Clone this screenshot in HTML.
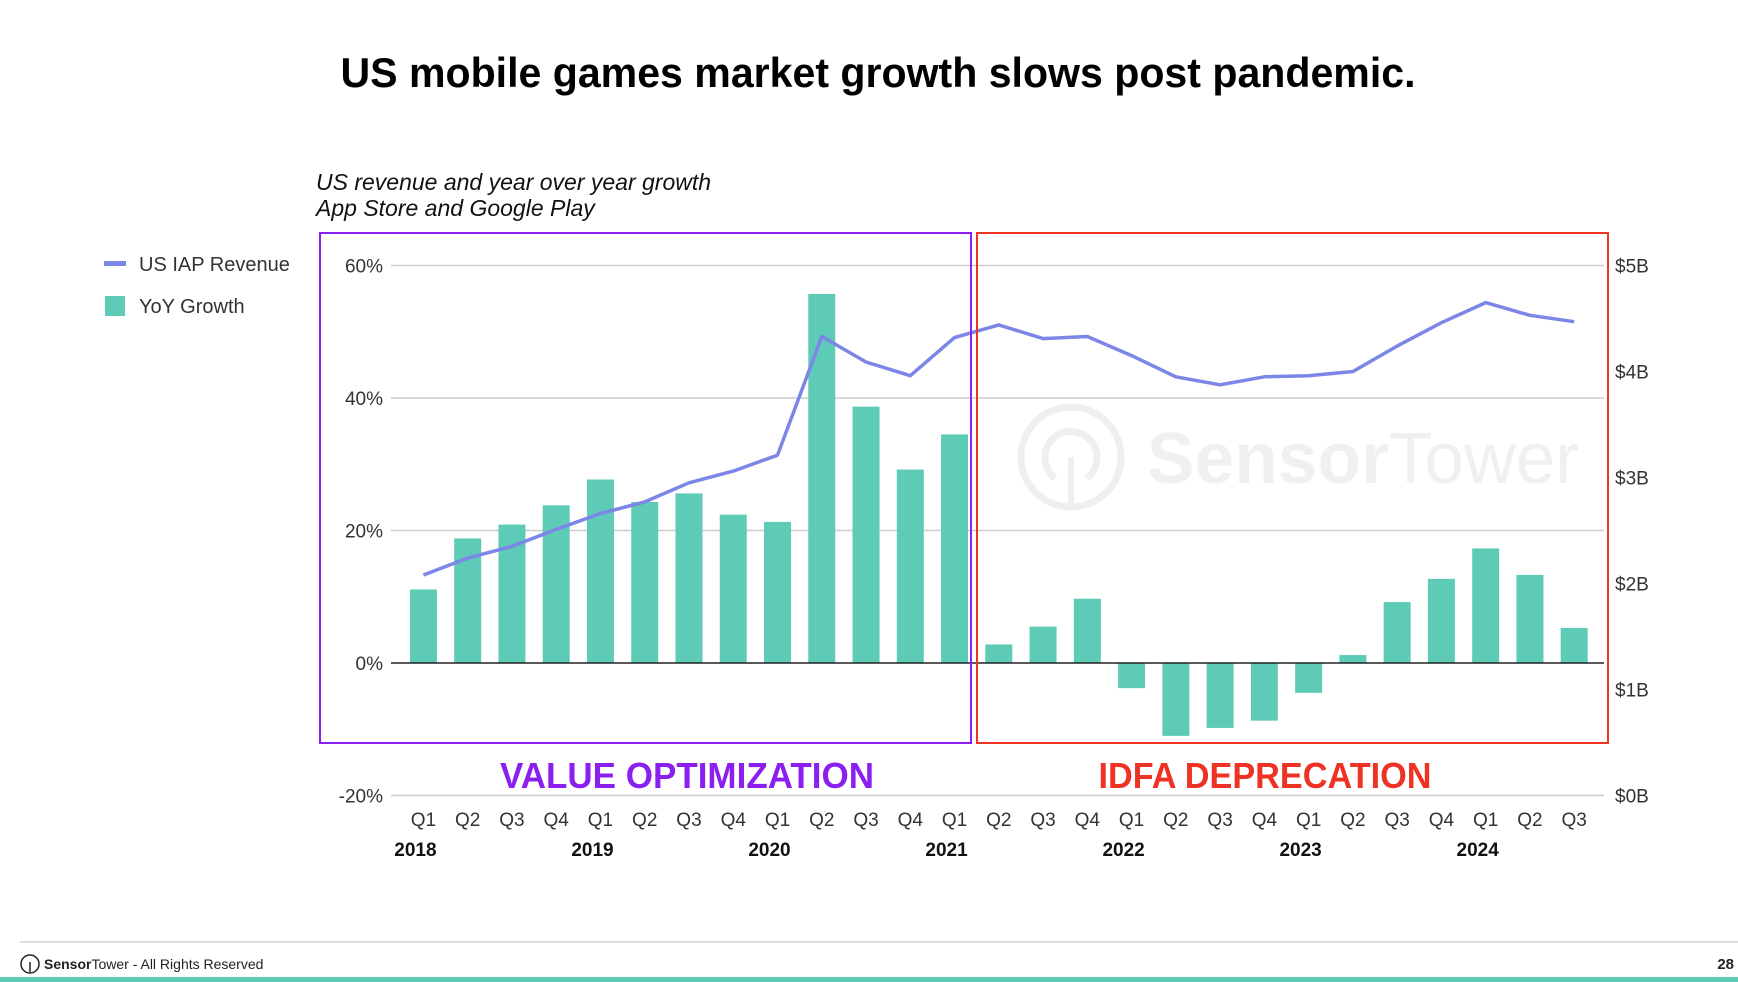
<!DOCTYPE html>
<html><head><meta charset="utf-8"><style>
html,body{margin:0;padding:0;background:#fff;}
svg{display:block;font-family:"Liberation Sans",sans-serif;}
</style></head><body>
<svg id="chart" width="1738" height="982" viewBox="0 0 1738 982">
<text x="878" y="87" text-anchor="middle" font-size="42" font-weight="bold" textLength="1075" lengthAdjust="spacingAndGlyphs" fill="#000">US mobile games market growth slows post pandemic.</text>
<text x="316" y="190" font-size="23" font-style="italic" fill="#111">US revenue and year over year growth</text>
<text x="316" y="216" font-size="23" font-style="italic" fill="#111">App Store and Google Play</text>
<g>
<rect x="104" y="261" width="22" height="5" fill="#7b86e6"/>
<text x="139" y="271" font-size="20" fill="#333">US IAP Revenue</text>
<rect x="105" y="296" width="20" height="20" fill="#5ecbb6"/>
<text x="139" y="313" font-size="20" fill="#333">YoY Growth</text>
</g>
<g opacity="0.9">
<circle cx="1071" cy="457" r="50" fill="none" stroke="#eee" stroke-width="7"/>
<path d="M1055 478 A26 26 0 1 1 1087 478" fill="none" stroke="#eee" stroke-width="7"/>
<line x1="1071" y1="457" x2="1071" y2="505" stroke="#eee" stroke-width="6"/>
<text x="1147" y="483" font-size="72" font-weight="bold" fill="#efefef" textLength="432" lengthAdjust="spacingAndGlyphs">Sensor<tspan font-weight="normal">Tower</tspan></text>
</g>
<g id="grid"></g>
<g id="bars"></g>
<g id="line"></g>
<g id="labels"></g>
<rect x="320" y="233" width="651" height="510" fill="none" stroke="#8a1ff0" stroke-width="2"/>
<rect x="977" y="233" width="631" height="510" fill="none" stroke="#ee3324" stroke-width="2"/>
<text x="687" y="788" text-anchor="middle" font-size="36" font-weight="bold" fill="#8a1ff0" textLength="374" lengthAdjust="spacingAndGlyphs">VALUE OPTIMIZATION</text>
<text x="1265" y="788" text-anchor="middle" font-size="36" font-weight="bold" fill="#ee3324" textLength="333" lengthAdjust="spacingAndGlyphs">IDFA DEPRECATION</text>
<line x1="20" y1="942" x2="1738" y2="942" stroke="#ddd" stroke-width="2"/>
<g><circle cx="30" cy="964" r="9" fill="none" stroke="#222" stroke-width="1.5"/><line x1="30" y1="962" x2="30" y2="972" stroke="#222" stroke-width="1.5"/></g>
<text x="44" y="969" font-size="14" fill="#222"><tspan font-weight="bold">Sensor</tspan>Tower - All Rights Reserved</text>
<text x="1734" y="969" text-anchor="end" font-size="15" font-weight="bold" fill="#222">28</text>
<rect x="0" y="977" width="1738" height="5" fill="#5ecbb6"/>
</svg>
<script>
const quarters = ["Q1","Q2","Q3","Q4","Q1","Q2","Q3","Q4","Q1","Q2","Q3","Q4","Q1","Q2","Q3","Q4","Q1","Q2","Q3","Q4","Q1","Q2","Q3","Q4","Q1","Q2","Q3"];
const years = ["2018","2019","2020","2021","2022","2023","2024"];
const yearIndex = [0,4,8,12,16,20,24];
const growth = [11.1,18.8,20.9,23.8,27.7,24.3,25.6,22.4,21.3,55.7,38.7,29.2,34.5,2.8,5.5,9.7,-3.8,-11,-9.8,-8.7,-4.5,1.2,9.2,12.7,17.3,13.3,5.3];
const revenue = [2.08,2.24,2.35,2.51,2.66,2.77,2.95,3.06,3.21,4.33,4.09,3.96,4.32,4.44,4.31,4.33,4.15,3.95,3.875,3.95,3.96,4.0,4.24,4.46,4.65,4.53,4.47];
const leftTicks = [60,40,20,0,-20];
const leftTickLabels = ["60%","40%","20%","0%","-20%"];
const rightTicks = [5,4,3,2,1,0];
const rightTickLabels = ["$5B","$4B","$3B","$2B","$1B","$0B"];

const NS="http://www.w3.org/2000/svg";
const x0=401.3, step=44.26, bw=27, gx1=391, gx2=1604;
function xC(i){return x0+step*(i+0.5);}
function yL(v){return 663-v*(132.5/20);}
function yR(v){return 795.5-v*(530/5);}
function mk(tag,attrs,parent){const e=document.createElementNS(NS,tag);for(const k in attrs)e.setAttribute(k,attrs[k]);parent.appendChild(e);return e;}
const grid=document.getElementById('grid'),bars=document.getElementById('bars'),line=document.getElementById('line'),labels=document.getElementById('labels');
leftTicks.forEach((t,i)=>{
  if(t!==0){const g=mk('line',{x1:gx1,x2:gx2,y1:yL(t),y2:yL(t),stroke:'#ccc','stroke-width':1.5},grid);
  
  }
  const tx=mk('text',{x:383,y:yL(t)+7,'text-anchor':'end','font-size':19,fill:'#333'},labels);
  tx.textContent=leftTickLabels[i];
  
  
});
rightTicks.forEach((t,i)=>{
  const tx=mk('text',{x:1615,y:yR(t)+7,'font-size':19,fill:'#333'},labels);
  tx.textContent=rightTickLabels[i];
  
  
});
growth.forEach((v,i)=>{
  const y=Math.min(yL(v),yL(0)),h=Math.abs(yL(v)-yL(0));
  const r=mk('rect',{x:xC(i)-bw/2,y:y,width:bw,height:h,fill:'#5ecbb6'},bars);
  
  
});
const zl=mk('line',{x1:gx1,x2:gx2,y1:yL(0),y2:yL(0),stroke:'#222','stroke-width':1.5},bars);


const pts=revenue.map((v,i)=>xC(i).toFixed(1)+','+yR(v).toFixed(1)).join(' ');
const pl=mk('polyline',{points:pts,fill:'none',stroke:'#7b86e6','stroke-width':3.5,'stroke-linejoin':'round'},line);


quarters.forEach((q,i)=>{
  const tx=mk('text',{x:xC(i),y:826,'text-anchor':'middle','font-size':19,fill:'#333'},labels);
  tx.textContent=q;
  
  
});
years.forEach((yv,i)=>{
  const tx=mk('text',{x:xC(yearIndex[i])-8,y:856,'text-anchor':'middle','font-size':19,'font-weight':'bold',fill:'#111'},labels);
  tx.textContent=yv;
  
  
});
</script>
</body></html>
